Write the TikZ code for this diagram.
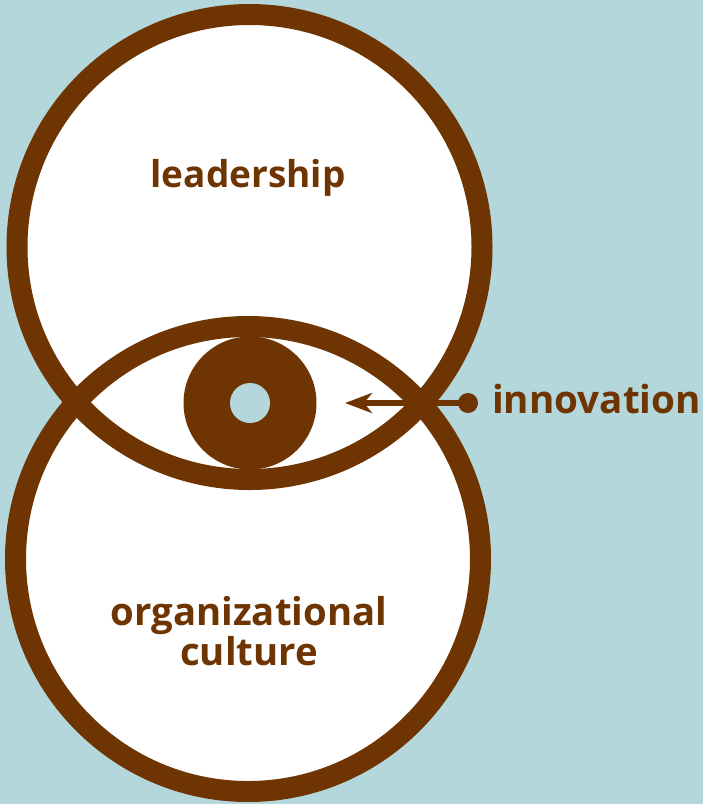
\documentclass[tikz,border=0pt]{standalone}
\usepackage{fontspec}
\setmainfont{Open Sans}
\usetikzlibrary{arrows.meta}
\definecolor{bg}{HTML}{B3D7DA}
\definecolor{brn}{HTML}{6E3503}
\tikzset{
  ring/.style={draw=brn, line width=21pt},
  lbl/.style={text=brn, font=\fontsize{#1}{40}\selectfont\bfseries, inner sep=0pt},
  lbl/.default=37,
}
\begin{document}
\begin{tikzpicture}[x=1pt,y=-1pt]
\fill[bg] (0,0) rectangle (703,804);
\useasboundingbox (0,0) rectangle (703,804);
\coordinate (ctop) at (249.5,247);
\coordinate (cbot) at (248,559);
\fill[white] (ctop) circle[radius=232.5pt];
\fill[white] (cbot) circle[radius=232.5pt];
\draw[ring] (ctop) circle[radius=232.5pt];
\draw[ring] (cbot) circle[radius=232.5pt];
\node[circle, fill=brn, minimum size=133pt, inner sep=0pt] (iris) at (250,403) {};
\node[circle, fill=bg, minimum size=40pt, inner sep=0pt] (pupil) at (iris.center) {};
\node[circle, fill=brn, minimum size=20pt, inner sep=0pt] (dot) at (468,403) {};
\coordinate (tip) at (345,403);
\draw[brn, line width=5.5pt, -{Stealth[length=27pt,width=20pt,inset=8pt]}] (dot.center) -- (tip);
\node[lbl=38.6, anchor=base west] (innov) at (492,413) {innovation};
\node[lbl, anchor=base] (lead) at (248,187.5) {leadership};
\node[lbl=38.3, anchor=base, align=center] (org) at (249,665) {organizational\\culture};
\end{tikzpicture}
\end{document}
